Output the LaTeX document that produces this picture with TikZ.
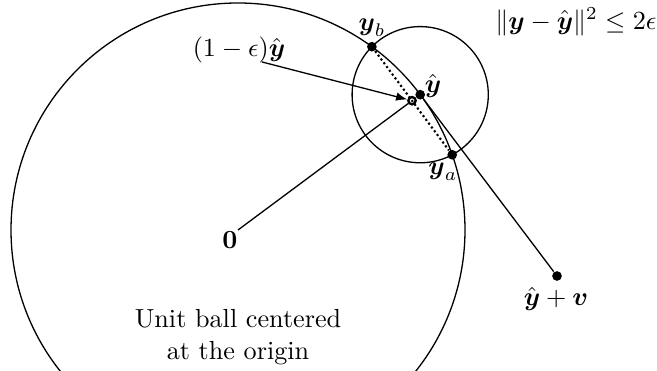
\documentclass[tikz,border=0pt]{standalone}
\usepackage{amssymb}
\usepackage{amsmath}
\usepackage{tikz}
\usetikzlibrary{arrows}
\usetikzlibrary{arrows.meta}
\newcommand{\ybf}{\boldsymbol{y}}
\newcommand{\yhat}{\hat{\boldsymbol{y}}}
\newcommand{\vbf}{\boldsymbol{v}}

\begin{document}
\begin{tikzpicture}[x=0.3826pt,y=0.3826pt,line width=0.5pt]
\tikzstyle{dot}=[circle,fill,inner sep=0pt,minimum size=3.7pt]
\tikzstyle{hollow}=[circle,draw,line width=0.9pt,inner sep=0pt,minimum size=2.8pt]
\clip (0,0) rectangle (657,371);
\coordinate (o) at (238,141);
\draw (o) circle (227);
\node[dot] (yh) at (420.2,276.3) {};
\draw (yh) circle (68.1);
\node[dot] (ya) at (452.2,216.2) {};
\node[dot] (yb) at (371.9,324.3) {};
\node[dot] (yv) at (557,95) {};
\node[hollow] (ys) at (412,270.3) {};
\draw[densely dotted,thick] (yb) -- (ya);
\draw (o) -- (ys);
\draw (yh) -- (yv);
\node (eps) at (239,321) {$(1-\epsilon)\yhat$};
\draw[-latex] ([xshift=8.8pt,yshift=4pt]eps.south) -- (ys);
\node (lyb) at (372,343) {$\ybf_b$};
\node (lyh) at (433,285) {$\yhat$};
\node (lya) at (443,199) {$\ybf_a$};
\node (lyv) at (556,72) {$\yhat+\vbf$};
\node (l0) at (230,131) {$\mathbf{0}$};
\node[anchor=west] (norm) at (486,349) {$\|\ybf-\yhat\|^2\leq 2\epsilon$};
\node[align=center] (unit) at (238,34) {Unit ball centered\\at the origin};
\end{tikzpicture}
\end{document}
